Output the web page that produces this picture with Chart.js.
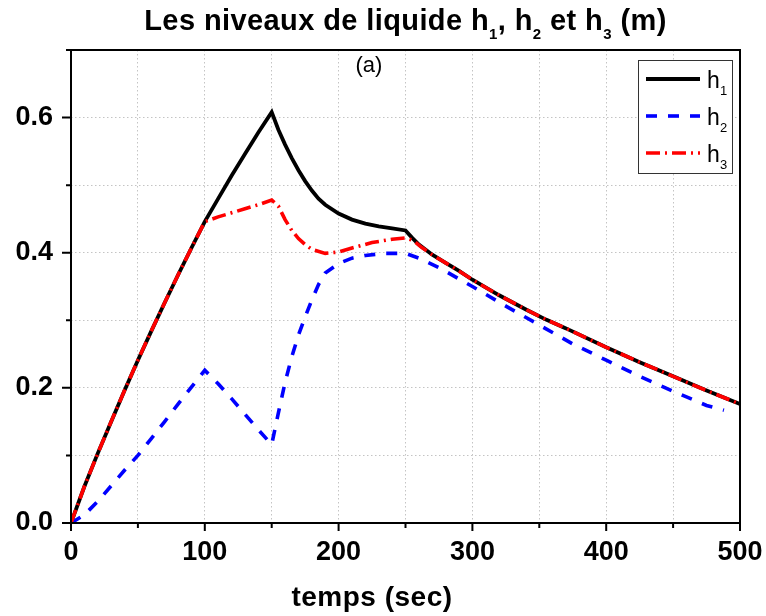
<!DOCTYPE html>
<html>
<head>
<meta charset="utf-8">
<script src="https://cdn.jsdelivr.net/npm/chart.js@4"></script>
<style>
  body { margin: 0; background: #fff; }
  #wrap { position: relative; width: 766px; height: 616px; }
  #chart { position: absolute; left: 0; top: 0; }
  .txt { position: absolute; font-family: "Liberation Sans", Arial, sans-serif; color: #000; white-space: nowrap; }
  #title { left: 71px; width: 669px; top: 6px; text-align: center; font-weight: bold; font-size: 29px; line-height: 29px; letter-spacing: 0.4px; }
  #title .s { font-size: 15px; position: relative; top: 9px; }
  #xtitle { left: 172px; width: 400px; top: 583px; text-align: center; font-weight: bold; font-size: 28px; line-height: 28px; letter-spacing: 0.5px; }
  #tag { left: 319px; width: 100px; top: 54px; text-align: center; font-size: 22px; line-height: 22px; }
</style>
</head>
<body>
<div id="wrap">
  <canvas id="chart" width="766" height="616"></canvas>
  <div class="txt" id="title">Les niveaux de liquide h<span class="s">1</span>, h<span class="s">2</span> et h<span class="s">3</span> (m)</div>
  <div class="txt" id="tag">(a)</div>
  <div class="txt" id="xtitle">temps (sec)</div>
</div>
<script>
// values
const tH1 = [0, 10, 20, 30, 40, 50, 60, 70, 80, 90, 100, 110, 120, 130, 140, 150,
  155, 160, 165, 170, 175, 180, 185, 190, 200, 210, 220, 230, 240, 250, 255, 260,
  270, 280, 290, 300, 320, 340, 355, 370, 400, 425, 450, 475, 500];
const h1 = [0, 0.054, 0.103, 0.150, 0.196, 0.241, 0.284, 0.326, 0.367, 0.407, 0.446,
  0.480, 0.514, 0.546, 0.578, 0.608,
  0.582, 0.560, 0.540, 0.522, 0.506, 0.492, 0.480, 0.471,
  0.458, 0.449, 0.443, 0.439, 0.436, 0.433, 0.422, 0.412,
  0.397, 0.385, 0.373, 0.360, 0.337, 0.316, 0.301, 0.288,
  0.260, 0.238, 0.217, 0.196, 0.176];

const tH2 = [0, 10, 20, 30, 40, 50, 60, 70, 80, 90, 100, 110, 120, 130, 140, 150,
  155, 160, 165, 170, 175, 180, 185, 190, 200, 210, 220, 235, 250, 260, 275,
  300, 325, 350, 375, 400, 425, 450, 475, 488];
const h2 = [0, 0.012, 0.032, 0.055, 0.078, 0.100, 0.125, 0.150, 0.176, 0.201, 0.226,
  0.206, 0.184, 0.161, 0.138, 0.116,
  0.163, 0.208, 0.246, 0.278, 0.305, 0.330, 0.353, 0.370,
  0.384, 0.392, 0.396, 0.399, 0.399, 0.392, 0.378,
  0.350, 0.321, 0.293, 0.265, 0.241, 0.217, 0.195, 0.174, 0.167];

const tH3 = [0, 10, 20, 30, 40, 50, 60, 70, 80, 90, 100, 110, 120, 130, 140, 150,
  155, 160, 165, 170, 175, 180, 190, 200, 210, 225, 240, 250, 256, 262,
  270, 280, 290, 300, 320, 340, 355, 370, 400, 425, 450, 475, 500];
const h3 = [0, 0.054, 0.103, 0.150, 0.196, 0.241, 0.284, 0.326, 0.367, 0.407, 0.446,
  0.453, 0.459, 0.465, 0.471, 0.478,
  0.469, 0.449, 0.433, 0.421, 0.412, 0.405, 0.399,
  0.401, 0.407, 0.415, 0.420, 0.422, 0.418, 0.408,
  0.397, 0.385, 0.373, 0.360, 0.337, 0.316, 0.301, 0.288,
  0.260, 0.238, 0.217, 0.196, 0.176];

const xTicks = { min: 0, max: 500, step: 50, labelStep: 100 };
const yTicks = { min: 0, max: 0.7, step: 0.1 };

const toPoints = (ts, vs) => ts.map((t, i) => ({ x: t, y: vs[i] }));

const FONT = '"Liberation Sans", Arial, sans-serif';

// axis box + outward tick marks (major / minor)
const framePlugin = {
  id: "frame",
  afterDatasetsDraw(chart) {
    const { ctx, chartArea: a, scales: { x, y } } = chart;
    ctx.save();
    ctx.strokeStyle = "#000";
    ctx.lineWidth = 2;
    ctx.strokeRect(a.left, a.top, a.right - a.left, a.bottom - a.top);
    ctx.beginPath();
    x.ticks.forEach((t) => {
      const px = x.getPixelForValue(t.value);
      const len = Math.round(t.value) % xTicks.labelStep === 0 ? 8 : 5;
      ctx.moveTo(px, a.bottom);
      ctx.lineTo(px, a.bottom + len);
    });
    y.ticks.forEach((t) => {
      const py = y.getPixelForValue(t.value);
      const len = Math.round(t.value * 10) % 2 === 0 ? 9 : 5;
      ctx.moveTo(a.left, py);
      ctx.lineTo(a.left - len, py);
    });
    ctx.stroke();
    ctx.restore();
  },
};

// boxed legend with subscripted labels
const legendPlugin = {
  id: "boxLegend",
  afterDraw(chart) {
    const { ctx, chartArea: a } = chart;
    const right = a.right - 8;
    const top = a.top + 10;
    const w = 94, h = 113;
    ctx.save();
    ctx.fillStyle = "#fff";
    ctx.fillRect(right - w, top, w, h);
    ctx.strokeStyle = "#333";
    ctx.lineWidth = 1;
    ctx.strokeRect(right - w + 0.5, top + 0.5, w, h);
    chart.data.datasets.forEach((ds, i) => {
      const cy = top + 19 + i * 37;
      const x0 = right - w + 8;
      ctx.strokeStyle = ds.borderColor;
      ctx.lineWidth = ds.borderWidth;
      ctx.setLineDash(ds.borderDash || []);
      ctx.beginPath();
      ctx.moveTo(x0, cy);
      ctx.lineTo(x0 + 54, cy);
      ctx.stroke();
      ctx.setLineDash([]);
      ctx.fillStyle = "#000";
      ctx.textBaseline = "alphabetic";
      ctx.font = "23px " + FONT;
      ctx.fillText(ds.label[0], x0 + 61, cy + 9);
      ctx.font = "13px " + FONT;
      ctx.fillText(ds.label.slice(1), x0 + 74, cy + 16);
    });
    ctx.restore();
  },
};

const gridStyle = { color: "#c4c4c4", lineWidth: 1, drawTicks: false };
const borderStyle = { display: false, dash: [1.5, 2.5] };

new Chart(document.getElementById("chart"), {
  type: "line",
  data: {
    datasets: [
      {
        label: "h1",
        data: toPoints(tH1, h1),
        borderColor: "#000000",
        borderWidth: 3.8,
        order: 3,
      },
      {
        label: "h2",
        data: toPoints(tH2, h2),
        borderColor: "#0000ff",
        borderWidth: 3.6,
        borderDash: [11, 11],
        order: 2,
      },
      {
        label: "h3",
        data: toPoints(tH3, h3),
        borderColor: "#ff0000",
        borderWidth: 3.6,
        borderDash: [14, 5, 2, 5],
        order: 1,
      },
    ],
  },
  options: {
    responsive: false,
    animation: false,
    events: [],
    elements: { point: { radius: 0 }, line: { tension: 0, fill: false } },
    layout: { padding: { top: 50, right: 26, left: 0, bottom: 0 } },
    plugins: { legend: { display: false }, tooltip: { enabled: false }, title: { display: false } },
    scales: {
      x: {
        type: "linear",
        min: xTicks.min,
        max: xTicks.max,
        afterFit: (s) => { s.height = 93; s.paddingLeft = 0; s.paddingRight = 0; },
        grid: gridStyle,
        border: borderStyle,
        ticks: {
          stepSize: xTicks.step,
          autoSkip: false,
          maxRotation: 0,
          padding: 13,
          color: "#000",
          font: { family: FONT, size: 27, weight: "bold" },
          callback: (v) => (Math.round(v) % xTicks.labelStep === 0 ? String(v) : ""),
        },
      },
      y: {
        type: "linear",
        min: yTicks.min,
        max: yTicks.max,
        afterFit: (s) => { s.width = 71; s.paddingTop = 0; s.paddingBottom = 0; },
        grid: gridStyle,
        border: borderStyle,
        ticks: {
          stepSize: yTicks.step,
          autoSkip: false,
          padding: 18,
          color: "#000",
          font: { family: FONT, size: 27, weight: "bold" },
          callback: (v) => {
            const k = Math.round(v * 10);
            return k % 2 === 0 && k <= 6 ? (k / 10).toFixed(1) : "";
          },
        },
      },
    },
  },
  plugins: [framePlugin, legendPlugin],
});
</script>
</body>
</html>
